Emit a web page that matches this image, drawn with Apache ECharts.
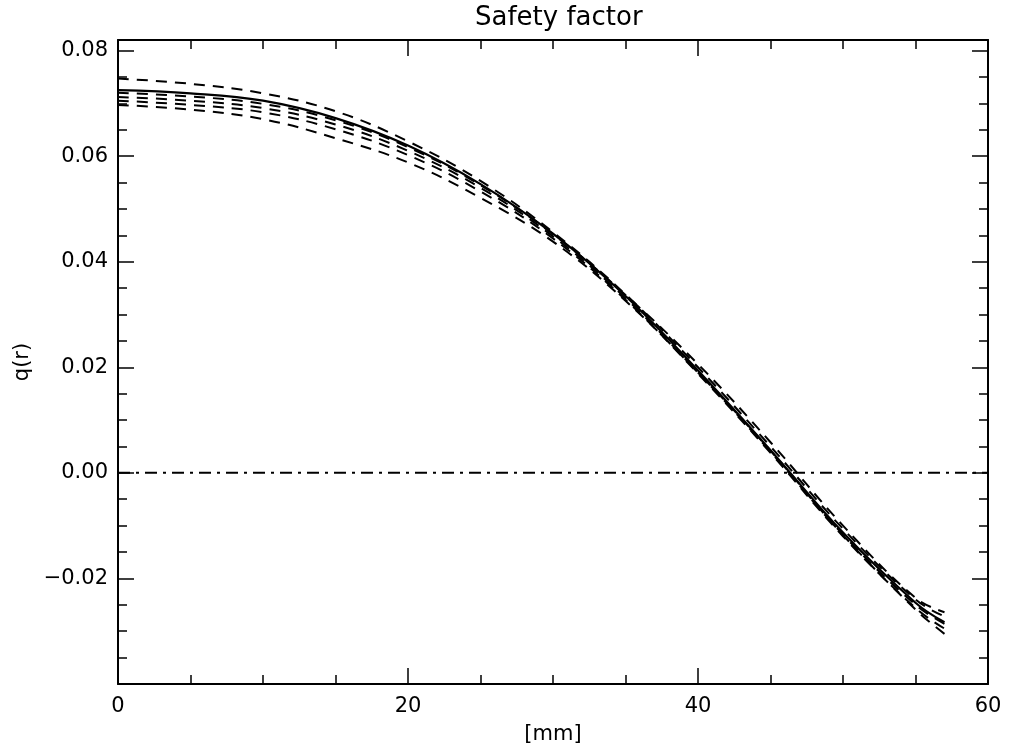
<!DOCTYPE html>
<html>
<head>
<meta charset="utf-8">
<script src="https://cdn.jsdelivr.net/npm/echarts@6/dist/echarts.min.js"></script>
<style>html,body{margin:0;padding:0;background:#fff}#c{width:1011px;height:750px}</style>
</head>
<body>
<div id="c"></div>
<script>
// radius in mm
const r = [0, 5, 10, 15, 20, 25, 30, 35, 40, 45, 50, 55, 57];
// solid (reference) safety factor profile
const qMain = [0.0725, 0.0719, 0.0705, 0.0672, 0.0620, 0.0547, 0.0453, 0.0335, 0.0194, 0.0043, -0.0113, -0.0246, -0.0283];
// dashed profiles
const qD1 = [0.0747, 0.0737, 0.0719, 0.0685, 0.0628, 0.0553, 0.0456, 0.0338, 0.0200, 0.0050, -0.0106, -0.0240, -0.0272];
const qD2 = [0.0720, 0.0713, 0.0699, 0.0668, 0.0617, 0.0545, 0.0452, 0.0337, 0.0206, 0.0058, -0.0100, -0.0237, -0.0264];
const qD3 = [0.0712, 0.0705, 0.0691, 0.0660, 0.0610, 0.0540, 0.0448, 0.0331, 0.0190, 0.0040, -0.0117, -0.0250, -0.0286];
const qD4 = [0.0705, 0.0697, 0.0683, 0.0651, 0.0602, 0.0533, 0.0444, 0.0328, 0.0188, 0.0038, -0.0120, -0.0256, -0.0295];
const qD5 = [0.0697, 0.0688, 0.0670, 0.0634, 0.0588, 0.0521, 0.0438, 0.0326, 0.0190, 0.0042, -0.0118, -0.0259, -0.0305];
const zeroLine = [[0, 0], [60, 0]];
const xTicks = [0, 20, 40, 60];
const yTicks = [-0.02, 0.00, 0.02, 0.04, 0.06, 0.08];

const pair = (xs, ys) => xs.map((x, i) => [x, ys[i]]);
const font = 'DejaVu Sans, Liberation Sans, sans-serif';

function yLabel(v) {
  const hit = yTicks.some(t => Math.abs(t - v) < 1e-9);
  if (!hit) return '';
  const s = Math.abs(v).toFixed(2);
  return v < -1e-9 ? '\u2212' + s : s;
}
function xLabel(v) {
  return xTicks.some(t => Math.abs(t - v) < 1e-9) ? String(v) : '';
}

function axisCommon() {
  return {
    axisLine: { show: true, onZero: false, lineStyle: { color: '#000', width: 2 } },
    axisTick: { show: true, inside: true, length: 16, lineStyle: { color: '#000', width: 1.5 } },
    minorTick: { show: true, splitNumber: 4, length: 9, lineStyle: { color: '#000', width: 1.5 } },
    splitLine: { show: false },
    minorSplitLine: { show: false }
  };
}

const chart = echarts.init(document.getElementById('c'), null, { renderer: 'canvas' });
const dashStyle = { color: '#000', width: 2, type: [11, 8] };
const mk = (name, ys) => ({
  name, type: 'line', data: pair(r, ys), smooth: 0.4, showSymbol: false,
  lineStyle: dashStyle, xAxisIndex: 0, yAxisIndex: 0, z: 3
});
chart.setOption({
  animation: false,
  backgroundColor: '#fff',
  title: {
    text: 'Safety factor', left: 470, top: 0,
    textStyle: { fontFamily: font, fontSize: 26, fontWeight: 'normal', color: '#000' }
  },
  grid: { left: 118, right: 23, top: 40, bottom: 62 },
  xAxis: [
    Object.assign(axisCommon(), {
      type: 'value', min: 0, max: 60, interval: 20, position: 'bottom',
      name: '[mm]', nameLocation: 'middle', nameGap: 40,
      nameTextStyle: { fontFamily: font, fontSize: 21, color: '#000' },
      axisLabel: { show: true, margin: 12, color: '#000', fontFamily: font, fontSize: 21, formatter: xLabel }
    }),
    Object.assign(axisCommon(), {
      type: 'value', min: 0, max: 60, interval: 20, position: 'top',
      axisLabel: { show: false }
    })
  ],
  yAxis: [
    Object.assign(axisCommon(), {
      type: 'value', min: -0.04, max: 0.082, interval: 0.02, position: 'left',
      name: 'q(r)', nameLocation: 'middle', nameGap: 72, nameRotate: 90,
      nameTextStyle: { fontFamily: font, fontSize: 21, color: '#000' },
      axisLabel: { show: true, margin: 10, color: '#000', fontFamily: font, fontSize: 21, formatter: yLabel }
    }),
    Object.assign(axisCommon(), {
      type: 'value', min: -0.04, max: 0.082, interval: 0.02, position: 'right',
      axisLabel: { show: false }
    })
  ],
  series: [
    mk('d1', qD1), mk('d2', qD2), mk('d3', qD3), mk('d4', qD4), mk('d5', qD5),
    {
      name: 'main', type: 'line', data: pair(r, qMain), smooth: 0.4, showSymbol: false,
      lineStyle: { color: '#000', width: 2.2 }, z: 4
    },
    {
      name: 'zero', type: 'line', data: zeroLine, showSymbol: false,
      lineStyle: { color: '#000', width: 2, type: [12, 6, 3, 6] }, z: 2
    }
  ]
});
</script>
</body>
</html>
